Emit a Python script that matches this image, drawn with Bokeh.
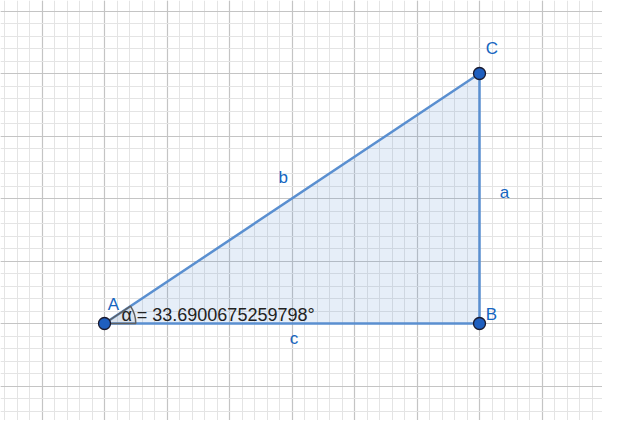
from bokeh.plotting import figure
from bokeh.models import SingleIntervalTicker, Range1d
from bokeh.core.properties import value
from bokeh.embed import file_html
from bokeh.resources import INLINE
import math

# triangle vertices (grid units)
names = ["A", "B", "C"]
xs = [0, 6, 6]
ys = [0, 0, 4]

sides = ["a", "b", "c"]
alpha = math.degrees(math.atan2(ys[2] - ys[1], xs[1] - xs[0]))

p = figure(width=602, height=420, output_backend="svg", toolbar_location=None,
           x_range=Range1d(-1.664, 7.968), y_range=Range1d(-1.552, 5.168),
           min_border=0, outline_line_color=None)
p.axis.visible = False
for g in (p.xgrid, p.ygrid):
    g.ticker = SingleIntervalTicker(interval=1, num_minor_ticks=5)
    g.grid_line_color = "#c4c4c4"
    g.grid_line_width = 1.2
    g.minor_grid_line_color = "#e4e4e4"

blue = "#1565c0"
font = value("Liberation Sans")
p.patch(xs, ys, fill_color="#5a8fd0", fill_alpha=0.15, line_color="#5a8fd0", line_width=2.5)
p.wedge(x=[xs[0]], y=[ys[0]], radius=0.5, start_angle=0, end_angle=math.radians(alpha),
        fill_color="#808080", fill_alpha=0.1, line_color="#606060", line_width=1.5)
p.scatter(xs, ys, size=12, fill_color="#1f5fbf", line_color="#1a1a2e", line_width=1.3)

p.text([xs[0] + 0.05, xs[1] + 0.1, xs[2] + 0.1], [ys[0] + 0.16, ys[1] + 0.0, ys[2] + 0.25],
       text=names, text_color=blue, text_font=font, text_font_size="17px", text_baseline="bottom")
p.text([(xs[1] + xs[2]) / 2 + 0.4, (xs[0] + xs[2]) / 2 - 0.14, (xs[0] + xs[1]) / 2 + 0.03],
       [2.09, 2.33, -0.24],
       text=sides, text_color=blue, text_font=font, text_font_size="17px",
       text_align="center", text_baseline="middle")
p.text([0.27], [0.14], text=["α = %s°" % repr(round(alpha, 13))], text_color="#222222",
       text_font=font, text_font_size="18px", text_baseline="middle")

open("out.html", "w").write(file_html(p, INLINE))
